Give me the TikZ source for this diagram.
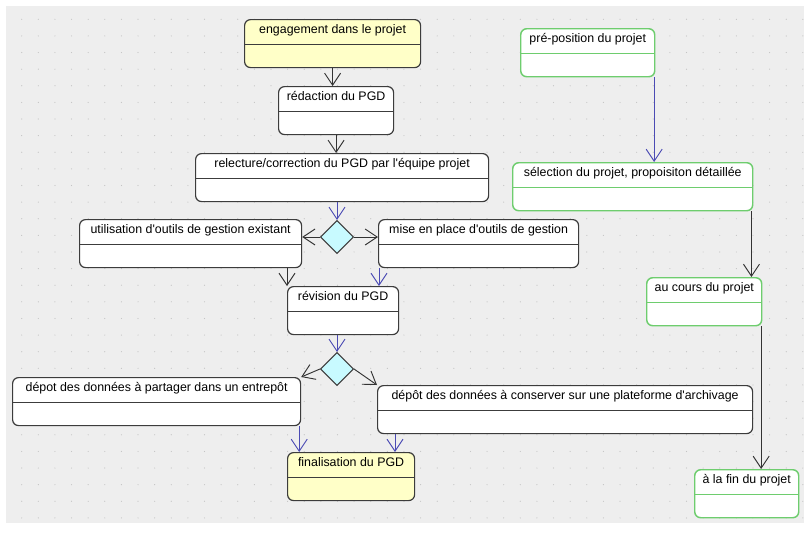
\documentclass[tikz,border=0pt]{standalone}
\usepackage{fontspec}
\setmainfont{Liberation Sans}
\usetikzlibrary{arrows.meta,shapes.geometric,positioning}
\definecolor{gridbg}{RGB}{238,238,238}
\definecolor{griddot}{RGB}{196,196,196}
\definecolor{framegray}{RGB}{60,60,60}
\definecolor{framegreen}{RGB}{110,205,110}
\definecolor{notefill}{RGB}{255,255,200}
\definecolor{choixfill}{RGB}{200,250,255}
\definecolor{flowblue}{RGB}{75,75,180}
\newcommand{\apos}{\textquotesingle}
\tikzset{
>={Straight Barb[length=9pt,width=12pt]},
  divider/.style={
    path picture={\draw[#1, line width=0.9pt]
      ([yshift=-18.75pt]path picture bounding box.north west) --
      ([yshift=-18.75pt]path picture bounding box.north east);}},
  activite/.style={
    rectangle,
    rounded corners=4.5pt,
    draw=framegray, line width=0.9pt,
    fill=white,
    font=\fontsize{9.3}{11}\selectfont,
    inner ysep=0pt,
    text height=10.5pt,
    text depth=25.5pt,
    anchor=north west,
    divider=framegray},
  phase/.style={activite, draw=framegreen, line width=1.1pt, divider=framegreen},
  largeur/.style={minimum width=#1*0.75pt},
  choix/.style={
    diamond,
    draw=framegray, line width=0.8pt,
    fill=choixfill,
    minimum width=24.75pt, minimum height=24.75pt,
    inner sep=0pt},
  line/.style={draw=black!80, line width=0.7pt, ->},
  bleu/.style={line, draw=flowblue},
}
\begin{document}
\begin{tikzpicture}[x=0.75pt, y=-0.75pt]
  \useasboundingbox (0,0) rectangle (804,533);
  \fill[gridbg] (6,6) rectangle (804,523);
  \foreach \i in {0,...,47}
    \foreach \j in {0,...,30}
      \fill[griddot] (21.7+\i*16.62, 19.3+\j*16.62) circle (0.45pt);
  % main column
  \node[activite, largeur=176, fill=notefill] (engage) at (244,19) {engagement dans le projet};
  \node[activite, largeur=115] (redac) at (278,86) {rédaction du PGD};
  \node[activite, largeur=293] (relect) at (195,153) {relecture/correction du PGD par l\apos équipe projet};
  \node[choix] (choix1) at (337,237) {};
  \node[activite, largeur=222] (outils) at (79,219) {utilisation d\apos outils de gestion existant};
  \node[activite, largeur=200] (mise) at (378,219) {mise en place d\apos outils de gestion};
  \node[activite, largeur=111] (revision) at (287,286) {révision du PGD};
  \node[choix] (choix2) at (337,369) {};
  \node[activite, largeur=288] (partage) at (12,377) {dépot des données à partager dans un entrepôt};
  \node[activite, largeur=375] (archive) at (377,385) {dépôt des données à conserver sur une plateforme d\apos archivage};
  \node[activite, largeur=127, fill=notefill] (final) at (287,452) {finalisation du PGD};
  % project phases
  \node[phase, largeur=134] (prepos) at (520,28) {pré-position du projet};
  \node[phase, largeur=240] (select) at (512,162) {sélection du projet, propoisiton détaillée};
  \node[phase, largeur=115] (cours) at (646,277) {au cours du projet};
  \node[phase, largeur=104] (fin) at (694,469) {à la fin du projet};

  %% flow of the plan
  \draw[line] (engage.south) -- (engage.south |- redac.north);
  \draw[line] (redac.south) -- (redac.south |- relect.north);
  \draw[bleu] (choix1.north |- relect.south) -- (choix1.north);
  \draw[line] (choix1.west) -- (choix1.west -| outils.east);
  \draw[line] (choix1.east) -- (choix1.east -| mise.west);
  \draw[line] (outils.south -| revision.north west) -- (revision.north west);
  \draw[bleu] ([xshift=0.75pt]mise.south west) -- ([xshift=0.75pt]mise.south west |- revision.north);
  \draw[bleu] (choix2.north |- revision.south) -- (choix2.north);
  \draw[line] (choix2.west) -- (partage.north east);
  \draw[line] (choix2.east) -- (archive.north west);
  \draw[bleu] ([xshift=-1.5pt]partage.south east) -- ([xshift=-1.5pt]partage.south east |- final.north);
  \draw[bleu] ([xshift=13.5pt]archive.south west) -- ([xshift=13.5pt]archive.south west |- final.north);
  %% phases
  \draw[bleu] ([xshift=-1pt]prepos.south east) -- ([xshift=-1pt]prepos.south east |- select.north);
  \draw[line] ([xshift=-1.5pt]select.south east) -- ([xshift=-1.5pt]select.south east |- cours.north);
  \draw[line] ([xshift=-1pt]cours.south east) -- ([xshift=-1pt]cours.south east |- fin.north);
\end{tikzpicture}
\end{document}
